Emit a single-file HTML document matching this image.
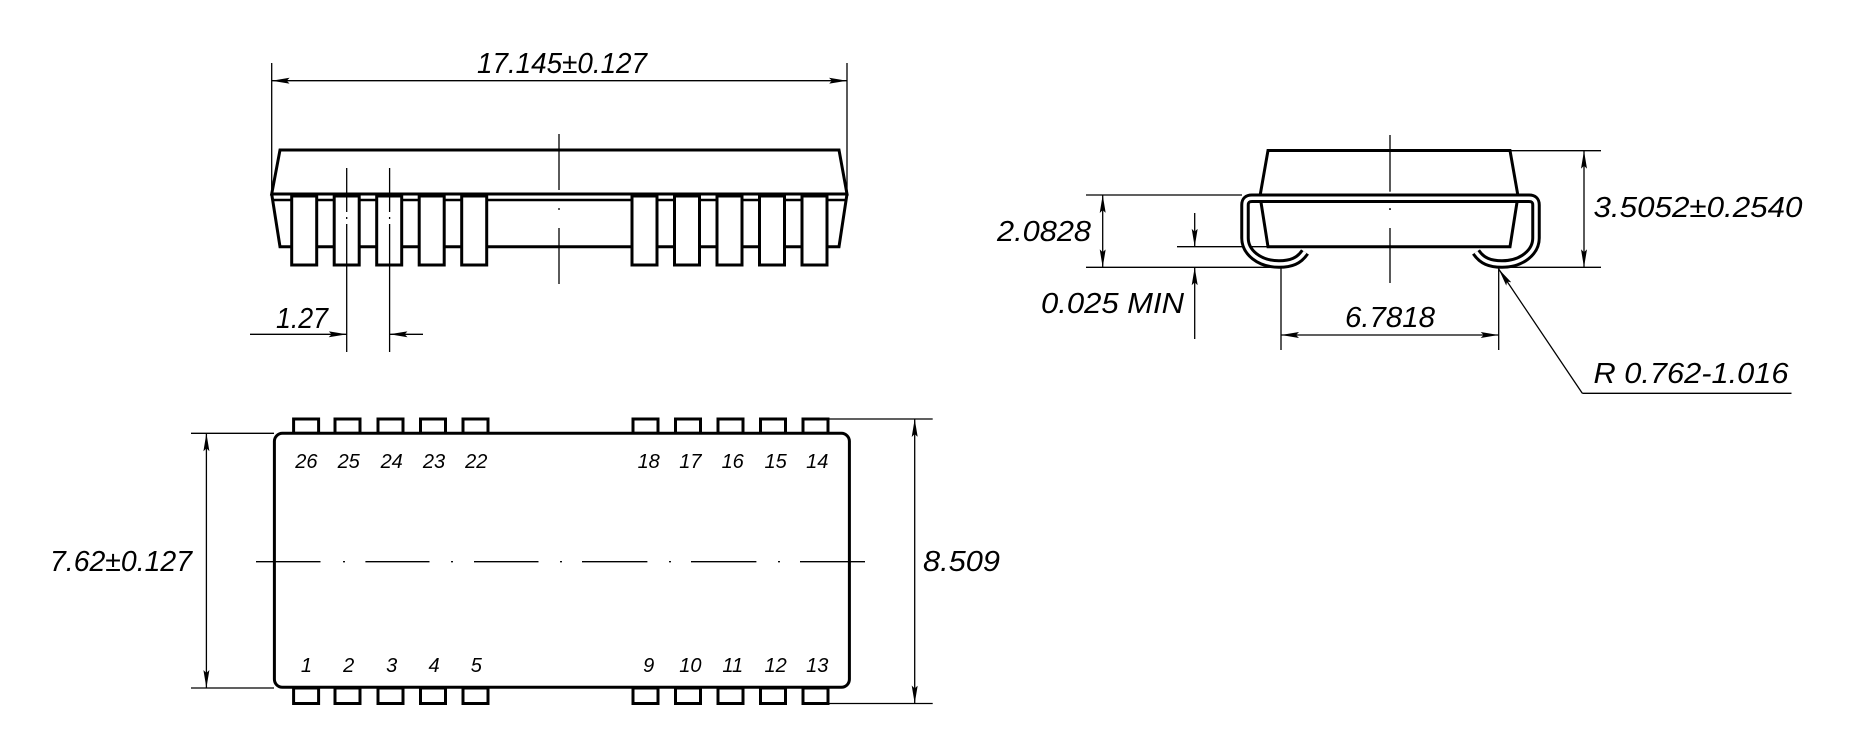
<!DOCTYPE html>
<html><head><meta charset="utf-8"><style>
html,body{margin:0;padding:0;background:#fff;}
svg{display:block;}
text{font-family:"Liberation Sans",sans-serif;font-style:italic;fill:#000;}
</style></head><body>
<svg width="1850" height="755" viewBox="0 0 1850 755" xmlns="http://www.w3.org/2000/svg">
<defs>
<marker id="a" viewBox="0 0 18 6" refX="18" refY="3" markerWidth="18" markerHeight="6" markerUnits="userSpaceOnUse" orient="auto-start-reverse">
<path d="M0,0 L18,3 L0,6 L3,3 z" fill="#000"/>
</marker>
</defs>
<g fill="none" stroke="#000">
<!-- ===== TOP VIEW (side elevation) ===== -->
<g stroke-width="1.3">
<line x1="271.7" y1="63" x2="271.7" y2="194"/>
<line x1="847" y1="63" x2="847" y2="194"/>
<line x1="271.7" y1="80.7" x2="847" y2="80.7" marker-start="url(#a)" marker-end="url(#a)"/>
</g>
<g stroke-width="3" stroke-linejoin="miter">
<polygon points="280,150 839,150 847,194 271.7,194"/>
<polyline points="271.7,194 280,246.7 839,246.7 847,194"/>
<line x1="273" y1="200" x2="846" y2="200" stroke-width="2.5"/>
</g>
<g stroke-width="3" fill="#fff">
<rect x="291.7" y="196" width="25" height="69"/>
<rect x="334.2" y="196" width="25" height="69"/>
<rect x="376.7" y="196" width="25" height="69"/>
<rect x="419.2" y="196" width="25" height="69"/>
<rect x="461.7" y="196" width="25" height="69"/>
<rect x="632" y="196" width="25" height="69"/>
<rect x="674.5" y="196" width="25" height="69"/>
<rect x="717" y="196" width="25" height="69"/>
<rect x="759.5" y="196" width="25" height="69"/>
<rect x="802" y="196" width="25" height="69"/>
</g>
<g stroke-width="1.3">
<line x1="559" y1="134" x2="559" y2="190"/>
<line x1="559" y1="208" x2="559" y2="210"/>
<line x1="559" y1="228" x2="559" y2="284"/>
<line x1="346.7" y1="168" x2="346.7" y2="212"/>
<line x1="346.7" y1="217" x2="346.7" y2="219"/>
<line x1="346.7" y1="224" x2="346.7" y2="352"/>
<line x1="389.6" y1="168" x2="389.6" y2="212"/>
<line x1="389.6" y1="217" x2="389.6" y2="219"/>
<line x1="389.6" y1="224" x2="389.6" y2="352"/>
<line x1="250" y1="334.3" x2="346.7" y2="334.3" marker-end="url(#a)"/>
<line x1="423" y1="334.3" x2="389.6" y2="334.3" marker-end="url(#a)"/>
</g>

<!-- ===== SIDE VIEW ===== -->
<g stroke-width="1.3">
<line x1="1508" y1="150.7" x2="1601" y2="150.7"/>
<line x1="1504" y1="267.3" x2="1601" y2="267.3"/>
<line x1="1584" y1="150.7" x2="1584" y2="267.3" marker-start="url(#a)" marker-end="url(#a)"/>
<line x1="1086" y1="195" x2="1242" y2="195"/>
<line x1="1086" y1="267.3" x2="1281" y2="267.3"/>
<line x1="1102.7" y1="195" x2="1102.7" y2="267.3" marker-start="url(#a)" marker-end="url(#a)"/>
<line x1="1177" y1="246.7" x2="1268" y2="246.7"/>
<line x1="1194.7" y1="213" x2="1194.7" y2="246.7" marker-end="url(#a)"/>
<line x1="1194.7" y1="339" x2="1194.7" y2="267.3" marker-end="url(#a)"/>
<line x1="1281" y1="267.3" x2="1281" y2="350"/>
<line x1="1498.7" y1="267.3" x2="1498.7" y2="350"/>
<line x1="1281" y1="335" x2="1498.7" y2="335" marker-start="url(#a)" marker-end="url(#a)"/>
<line x1="1582.3" y1="393.3" x2="1498.7" y2="269" marker-end="url(#a)"/>
<line x1="1582.3" y1="393.3" x2="1791.5" y2="393.3"/>
<line x1="1390" y1="135" x2="1390" y2="191.7"/>
<line x1="1390" y1="208" x2="1390" y2="210"/>
<line x1="1390" y1="228" x2="1390" y2="283"/>
</g>
<g stroke-width="3" stroke-linejoin="miter">
<polygon points="1268,150.5 1510,150.5 1518,196 1510,246.7 1268,246.7 1260,196"/>
</g>
<path d="M1305,252 C1299,261 1291,264 1279,264 C1259,264 1245,252 1245,238 L1245,205 Q1245,198.3 1252,198.3 L1529,198.3 Q1536,198.3 1536,205 L1536,238 C1536,252 1522,264 1502,264 C1490,264 1482,261 1476,252" stroke-width="9.5"/>
<path d="M1305,252 C1299,261 1291,264 1279,264 C1259,264 1245,252 1245,238 L1245,205 Q1245,198.3 1252,198.3 L1529,198.3 Q1536,198.3 1536,205 L1536,238 C1536,252 1522,264 1502,264 C1490,264 1482,261 1476,252" stroke-width="3.5" stroke="#fff"/>
<line x1="1390" y1="209" x2="1390" y2="210" stroke-width="1.3"/>

<!-- ===== BOTTOM VIEW ===== -->
<g stroke-width="1.3">
<line x1="191" y1="433.3" x2="274" y2="433.3"/>
<line x1="191" y1="688" x2="274" y2="688"/>
<line x1="206.4" y1="433.3" x2="206.4" y2="688" marker-start="url(#a)" marker-end="url(#a)"/>
<line x1="829" y1="419" x2="932.7" y2="419"/>
<line x1="829" y1="703.5" x2="932.7" y2="703.5"/>
<line x1="914.7" y1="419" x2="914.7" y2="703.5" marker-start="url(#a)" marker-end="url(#a)"/>
</g>
<g stroke-width="3" fill="#fff">
<rect x="293.6" y="419" width="25" height="14.3"/>
<rect x="335" y="419" width="25" height="14.3"/>
<rect x="378" y="419" width="25" height="14.3"/>
<rect x="420.5" y="419" width="25" height="14.3"/>
<rect x="463" y="419" width="25" height="14.3"/>
<rect x="633" y="419" width="25" height="14.3"/>
<rect x="675.5" y="419" width="25" height="14.3"/>
<rect x="718" y="419" width="25" height="14.3"/>
<rect x="760.5" y="419" width="25" height="14.3"/>
<rect x="803" y="419" width="25" height="14.3"/>
<rect x="293.6" y="688" width="25" height="15.5"/>
<rect x="335" y="688" width="25" height="15.5"/>
<rect x="378" y="688" width="25" height="15.5"/>
<rect x="420.5" y="688" width="25" height="15.5"/>
<rect x="463" y="688" width="25" height="15.5"/>
<rect x="633" y="688" width="25" height="15.5"/>
<rect x="675.5" y="688" width="25" height="15.5"/>
<rect x="718" y="688" width="25" height="15.5"/>
<rect x="760.5" y="688" width="25" height="15.5"/>
<rect x="803" y="688" width="25" height="15.5"/>
<rect x="274.4" y="433.3" width="575" height="254" rx="8" ry="8"/>
</g>
<g stroke-width="1.3">
<line x1="256" y1="561.7" x2="320.5" y2="561.7"/>
<line x1="343" y1="561.7" x2="345" y2="561.7"/>
<line x1="365.4" y1="561.7" x2="429.5" y2="561.7"/>
<line x1="451" y1="561.7" x2="453" y2="561.7"/>
<line x1="474" y1="561.7" x2="538.5" y2="561.7"/>
<line x1="560" y1="561.7" x2="562" y2="561.7"/>
<line x1="582" y1="561.7" x2="647.4" y2="561.7"/>
<line x1="669" y1="561.7" x2="671" y2="561.7"/>
<line x1="691" y1="561.7" x2="756.4" y2="561.7"/>
<line x1="778" y1="561.7" x2="780" y2="561.7"/>
<line x1="800" y1="561.7" x2="865" y2="561.7"/>
</g>
</g>

<!-- ===== TEXT ===== -->
<g font-size="29">
<text x="477" y="73" textLength="170" lengthAdjust="spacingAndGlyphs">17.145±0.127</text>
<text x="276" y="328" textLength="52" lengthAdjust="spacingAndGlyphs">1.27</text>
<text x="997" y="241" textLength="94" lengthAdjust="spacingAndGlyphs">2.0828</text>
<text x="1041" y="313" textLength="143" lengthAdjust="spacingAndGlyphs">0.025 MIN</text>
<text x="1345" y="327" textLength="90" lengthAdjust="spacingAndGlyphs">6.7818</text>
<text x="1593.5" y="217" textLength="209" lengthAdjust="spacingAndGlyphs">3.5052±0.2540</text>
<text x="1593.5" y="383" textLength="195" lengthAdjust="spacingAndGlyphs">R 0.762-1.016</text>
<text x="50" y="571" textLength="142" lengthAdjust="spacingAndGlyphs">7.62±0.127</text>
<text x="923" y="571" textLength="77" lengthAdjust="spacingAndGlyphs">8.509</text>
</g>
<g font-size="20" text-anchor="middle">
<text x="306.4" y="468">26</text>
<text x="348.7" y="468">25</text>
<text x="391.7" y="468">24</text>
<text x="434" y="468">23</text>
<text x="476.3" y="468">22</text>
<text x="648.7" y="468">18</text>
<text x="690.4" y="468">17</text>
<text x="732.7" y="468">16</text>
<text x="775.6" y="468">15</text>
<text x="817.3" y="468">14</text>
<text x="306.4" y="672">1</text>
<text x="348.7" y="672">2</text>
<text x="391.7" y="672">3</text>
<text x="434" y="672">4</text>
<text x="476.3" y="672">5</text>
<text x="648.7" y="672">9</text>
<text x="690.4" y="672">10</text>
<text x="732.7" y="672">11</text>
<text x="775.6" y="672">12</text>
<text x="817.3" y="672">13</text>
</g>
</svg>
</body></html>
